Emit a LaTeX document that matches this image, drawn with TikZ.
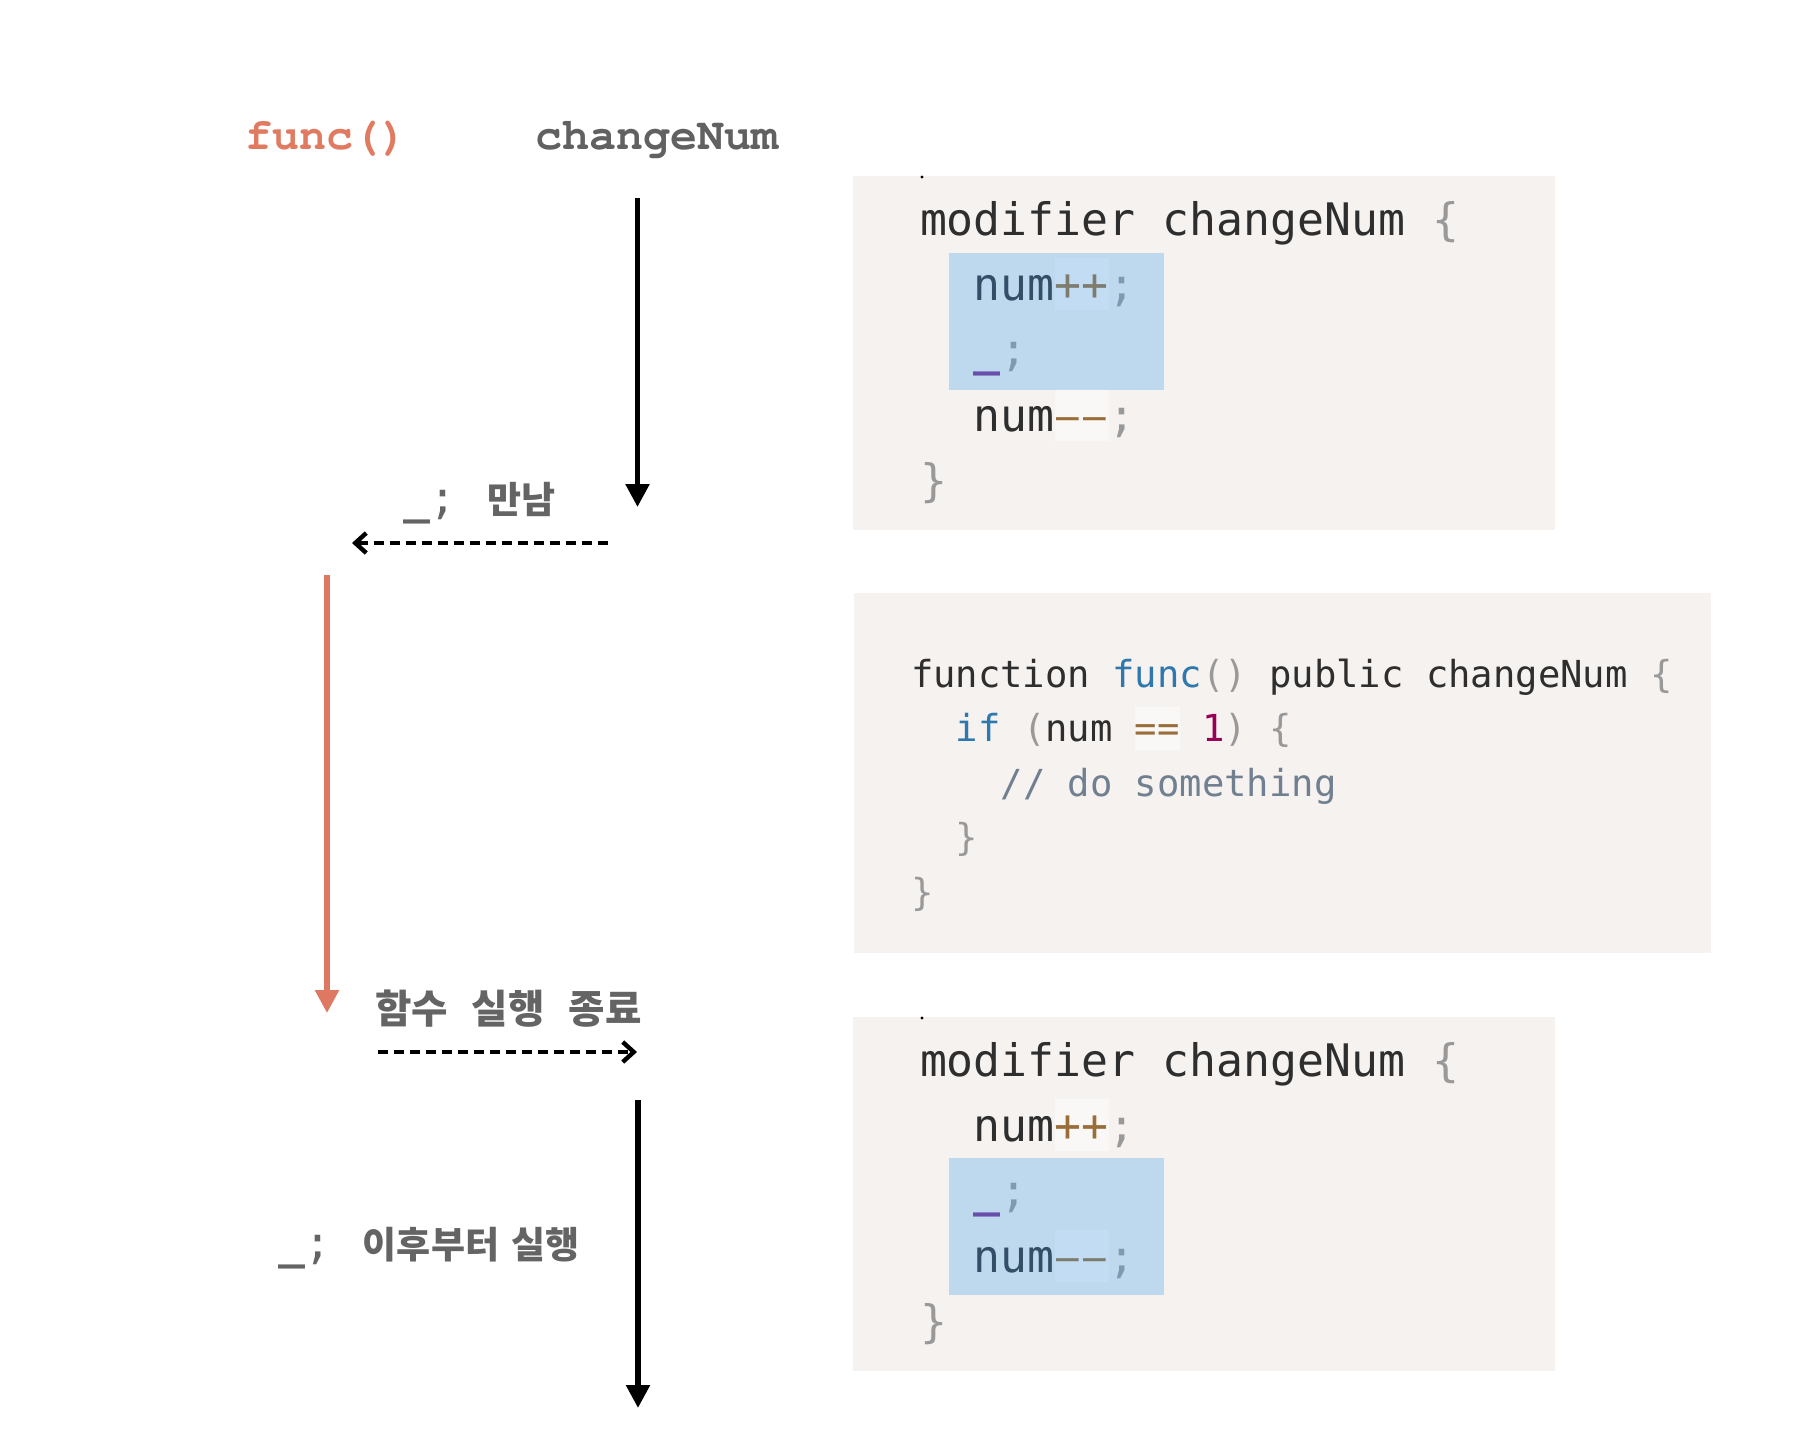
\documentclass[tikz,border=0pt]{standalone}
\usepackage{fontspec}
\usetikzlibrary{arrows.meta}
\newfontfamily\codefont{DejaVu Sans Mono}
\newfontfamily\hdrfont{texgyrecursor-bold.otf}
\newfontfamily\krfont{Noto Sans CJK KR}
\definecolor{cbg}{HTML}{F5F2F0}
\definecolor{chl}{HTML}{3F9EEB}
\definecolor{ctext}{HTML}{2E2E2E}
\definecolor{cpun}{HTML}{999999}
\definecolor{cop}{HTML}{9A6E3A}
\definecolor{cund}{HTML}{7B2E8E}
\definecolor{ckw}{HTML}{2F78AE}
\definecolor{cnum}{HTML}{990055}
\definecolor{ccom}{HTML}{708090}
\definecolor{cfunc}{HTML}{E07B61}
\definecolor{chdr}{HTML}{616161}
\definecolor{clab}{HTML}{646464}
\definecolor{corange}{HTML}{DF7862}
\tikzset{
  codeA/.style={anchor=base west, inner sep=0pt, outer sep=0pt, text=ctext,
    font=\codefont\fontsize{22.4pt}{27pt}\selectfont},
  codeB/.style={anchor=base west, inner sep=0pt, outer sep=0pt, text=ctext,
    font=\codefont\fontsize{18.6pt}{22pt}\selectfont},
  hdr/.style={anchor=base west, inner sep=0pt, outer sep=0pt,
    font=\hdrfont\fontsize{22.5pt}{27pt}\selectfont},
  lab/.style={anchor=base west, inner sep=0pt, outer sep=0pt, text=clab,
    font=\krfont\bfseries\fontsize{18.5pt}{22pt}\selectfont},
  codebox/.style={fill=cbg, draw=none},
  hlbox/.style={fill=chl, fill opacity=0.3, draw=none},
  opbox/.style={fill=white, fill opacity=0.5, draw=none},
  solidarr/.style={line width=2.7pt, -{Triangle[width=11.5pt,length=11.5pt]}},
  dasharr/.style={line width=2.2pt, dash pattern=on 4.8pt off 3.2pt,
    -{Straight Barb[length=5.5pt,width=10pt]}},
}
\newcommand\lbmono[1]{{\codefont\mdseries\fontsize{22.4pt}{27pt}\selectfont #1}}
\newcommand\undsc{{\color{cund}\bfseries\_}}
\newcommand\mdash{\makebox[0.602em]{\scalebox{0.84}[1]{–}}}
\begin{document}
\begin{tikzpicture}[x=0.5pt,y=-0.5pt]
\useasboundingbox (0,0) rectangle (1820,1442);
\fill[white] (0,0) rectangle (1820,1442);

% headers
\node[hdr, text=cfunc] (hfunc) at (245,149) {func()};
\node[hdr, text=chdr] (hchg) at (535,149) {changeNum};

% ---------- code box 1 ----------
\fill[codebox] (853,176) rectangle (1555,530);
\fill[black] (922,177) circle (1.6);
\fill[opbox] (1054.9,258) rectangle (1108.8,310);
\fill[opbox] (1054.9,389) rectangle (1108.8,441);
\node[codeA] (b1l0) at (920,235) {modifier changeNum {\color{cpun}\{}};
\node[codeA] (b1l1) at (973.9,300) {num{\color{cop}++}{\color{cpun};}};
\node[codeA] (b1l2) at (973.9,365.5) {\undsc{\color{cpun};}};
\node[codeA] (b1l3) at (973.9,431) {num{\color{cop}\mdash\mdash}{\color{cpun};}};
\node[codeA] (b1l4) at (920,496) {{\color{cpun}\}}};
\fill[hlbox] (949,253) rectangle (1164,390);

% ---------- code box 2 ----------
\fill[codebox] (854,593) rectangle (1711,953);
\fill[opbox] (1134.9,706.5) rectangle (1179.7,749.5);
\node[codeB] (b2l0) at (911,687) {function {\color{ckw}func}{\color{cpun}()} public changeNum {\color{cpun}\{}};
\node[codeB] (b2l1) at (955.8,741.5) {{\color{ckw}if} {\color{cpun}(}num {\color{cop}==} {\color{cnum}1}{\color{cpun})} {\color{cpun}\{}};
\node[codeB, text=ccom] (b2l2) at (1000.6,796) {// do something};
\node[codeB] (b2l3) at (955.8,850.5) {{\color{cpun}\}}};
\node[codeB] (b2l4) at (911,905) {{\color{cpun}\}}};

% ---------- code box 3 ----------
\fill[codebox] (853,1017) rectangle (1555,1371);
\fill[black] (922,1018) circle (1.6);
\fill[opbox] (1054.9,1099) rectangle (1108.8,1151);
\fill[opbox] (1054.9,1230) rectangle (1108.8,1282);
\node[codeA] (b3l0) at (920,1076) {modifier changeNum {\color{cpun}\{}};
\node[codeA] (b3l1) at (973.9,1141) {num{\color{cop}++}{\color{cpun};}};
\node[codeA] (b3l2) at (973.9,1206.5) {\undsc{\color{cpun};}};
\node[codeA] (b3l3) at (973.9,1272) {num{\color{cop}\mdash\mdash}{\color{cpun};}};
\node[codeA] (b3l4) at (920,1337) {{\color{cpun}\}}};
\fill[hlbox] (949,1158) rectangle (1164,1295);

% ---------- arrows ----------
\coordinate (a1s) at (637.5,198);
\coordinate (a1e) at (637.5,507);
\draw[solidarr] (a1s) -- (a1e);

\coordinate (d1s) at (608,543);
\coordinate (d1e) at (352,543);
\draw[dasharr] (d1s) -- (d1e);

\coordinate (o1s) at (327,575);
\coordinate (o1e) at (327,1013);
\draw[solidarr, draw=corange, fill=corange] (o1s) -- (o1e);

\coordinate (d2s) at (378,1052);
\coordinate (d2e) at (637,1052);
\draw[dasharr] (d2s) -- (d2e);

\coordinate (a2s) at (638,1100);
\coordinate (a2e) at (638,1408);
\draw[solidarr] (a2s) -- (a2e);

% ---------- labels ----------
\node[lab] (lmeet) at (403,513) {\lbmono{{\bfseries\_};}\hspace{15.5pt}만남};
\node[lab, font=\krfont\bfseries\fontsize{19.8pt}{23pt}\selectfont] (lend) at (375,1023) {함수\hspace{12pt}실행\hspace{12pt}종료};
\node[lab] (lafter) at (278,1258) {\lbmono{{\bfseries\_};}\hspace{15.5pt}이후부터\hspace{6pt}실행};
\end{tikzpicture}
\end{document}
